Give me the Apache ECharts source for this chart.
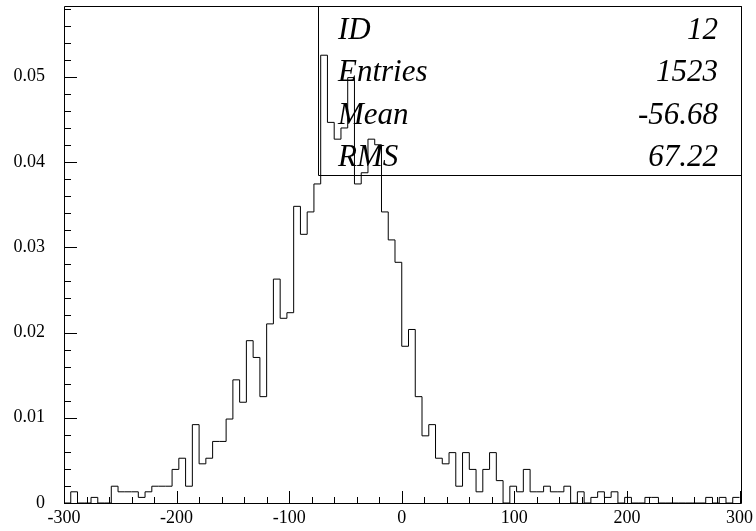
<!DOCTYPE html>
<html>
<head>
<meta charset="utf-8">
<script src="https://cdn.jsdelivr.net/npm/echarts@6/dist/echarts.min.js"></script>
<style>
html,body{margin:0;padding:0;background:#fff;}
#chart{width:756px;height:531px;}
</style>
</head>
<body>
<div id="chart"></div>
<script>
// Histogram: 100 bins of width 6 from -300 to 300; counts per bin (normalised by entries)
const xMin = -300, xMax = 300, binWidth = 6;
const counts = [
  0, 2, 0, 0, 1, 0, 0, 3, 2, 2,
  2, 1, 2, 3, 3, 3, 6, 8, 3, 14,
  7, 8, 11, 11, 15, 22, 18, 29, 26, 19,
  32, 40, 33, 34, 53, 48, 52, 57, 80, 68,
  65, 67, 76, 57, 59, 65, 64, 52, 47, 43,
  28, 31, 19, 12, 14, 8, 7, 9, 3, 9,
  6, 2, 6, 9, 4, 0, 3, 2, 6, 2,
  2, 3, 2, 2, 3, 0, 2, 0, 1, 2,
  1, 2, 0, 1, 0, 0, 1, 1, 0, 0,
  0, 0, 0, 0, 0, 1, 0, 1, 0, 1
];
const entries = 1523;
const yMax = 0.0583;
const xMajor = 100, xMinor = 20;
const yMajor = 0.01, yMinor = 0.002;
const statLabels = ['ID', 'Entries', 'Mean', 'RMS'];
const statValues = ['12', '1523', '-56.68', '67.22'];

const lineData = counts.map((c, i) => [xMin + i * binWidth, c / entries]);
lineData.push([xMax, counts[counts.length - 1] / entries]);

const chart = echarts.init(document.getElementById('chart'), null, {renderer: 'canvas'});
const FONT = 'Liberation Serif';

const W = 756, H = 531;
const gridL = 64, gridR = 15, gridT = 6, gridB = 28;

function baseGraphics() {
  const g = [];
  g.push({
    type: 'rect', silent: true, z: 9,
    shape: {x: gridL + 0.5, y: gridT + 0.5, width: W - gridR - gridL, height: H - gridB - gridT},
    style: {fill: 'none', stroke: '#000', lineWidth: 1}
  });
  const rowY = [30.5, 73, 115.5, 158];
  statLabels.forEach((lab, i) => {
    g.push({
      type: 'text', x: 338, y: rowY[i], silent: true, z: 10,
      style: {text: lab, fontFamily: FONT, fontStyle: 'italic', fontSize: 31, fill: '#000',
              align: 'left', verticalAlign: 'middle', textAlign: 'left', textVerticalAlign: 'middle'}
    });
    g.push({
      type: 'text', x: 718, y: rowY[i], silent: true, z: 10,
      style: {text: statValues[i], fontFamily: FONT, fontStyle: 'italic', fontSize: 31, fill: '#000',
              align: 'right', verticalAlign: 'middle', textAlign: 'right', textVerticalAlign: 'middle'}
    });
  });
  g.push({
    type: 'rect', silent: true, z: 10,
    shape: {x: 318.5, y: 6.5, width: 741.5 - 318.5, height: 175.5 - 6.5},
    style: {fill: 'none', stroke: '#000', lineWidth: 1}
  });
  return g;
}

const noLine = {show: false, onZero: false};
chart.setOption({
  animation: false,
  backgroundColor: '#fff',
  grid: {left: gridL, right: gridR, top: gridT, bottom: gridB, show: false, containLabel: false},
  xAxis: {
    type: 'value', min: xMin, max: xMax, interval: xMajor, position: 'bottom',
    axisLine: noLine, axisTick: {show: false}, splitLine: {show: false},
    axisLabel: {color: '#000', fontFamily: FONT, fontSize: 18, margin: 6,
                showMinLabel: true, showMaxLabel: true}
  },
  yAxis: {
    type: 'value', min: 0, max: yMax, interval: yMajor, position: 'left',
    axisLine: noLine, axisTick: {show: false}, splitLine: {show: false},
    axisLabel: {color: '#000', fontFamily: FONT, fontSize: 18, margin: 19, showMaxLabel: false,
                formatter: v => v === 0 ? '0' : v.toFixed(2)}
  },
  series: [{
    type: 'line', step: 'end', data: lineData,
    symbol: 'none', showSymbol: false,
    lineStyle: {color: '#000', width: 1}, z: 5
  }],
  graphic: {elements: baseGraphics()}
});

// Tick marks drawn inward as thin filled bars, positioned through the axes' own scales
const g = baseGraphics();
const yBase = Math.round(chart.convertToPixel({yAxisIndex: 0}, 0));
const xBase = Math.round(chart.convertToPixel({xAxisIndex: 0}, xMin));
const nX = Math.round((xMax - xMin) / xMinor);
for (let i = 0; i <= nX; i++) {
  const v = xMin + i * xMinor;
  const major = Math.abs(v % xMajor) < 1e-9;
  const px = Math.round(chart.convertToPixel({xAxisIndex: 0}, v));
  const len = major ? 13 : 7;
  g.push({type: 'rect', silent: true, z: 11,
          shape: {x: px, y: yBase + 1 - len, width: 1, height: len},
          style: {fill: '#000', stroke: null}});
}
const nY = Math.floor(yMax / yMinor + 1e-9);
for (let i = 0; i <= nY; i++) {
  const v = i * yMinor;
  const major = i % 5 === 0;
  const py = Math.round(chart.convertToPixel({yAxisIndex: 0}, v));
  const len = major ? 13 : 7;
  g.push({type: 'rect', silent: true, z: 11,
          shape: {x: xBase, y: py, width: len, height: 1},
          style: {fill: '#000', stroke: null}});
}
chart.setOption({graphic: {elements: g}}, {replaceMerge: ['graphic']});
</script>
</body>
</html>
